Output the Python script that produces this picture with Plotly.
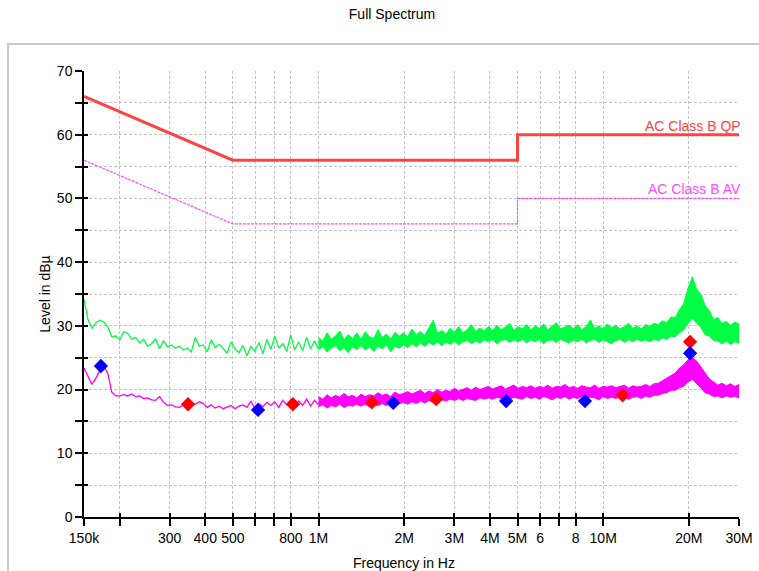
import numpy as np
import plotly.graph_objects as go

# ---------------- data ----------------
# limit lines (frequency in Hz, level in dBµV)
qp_freq = [150e3, 500e3, 5e6, 5e6, 30e6]
qp_level = [66, 56, 56, 60, 60]
av_freq = [150e3, 500e3, 5e6, 5e6, 30e6]
av_level = [56, 46, 46, 50, 50]

# sweep grid: sparse part (150 kHz - 1 MHz) and dense part (1 - 30 MHz)
freq_low = np.geomspace(150e3, 1e6, 60)
freq_high = np.geomspace(1e6, 30e6, 100)

peak_low = [34.2, 31.0, 29.6, 30.5, 30.9, 30.6, 29.8, 28.3, 28.4, 27.8,
            29.1, 28.8, 27.9, 28.2, 27.3, 27.9, 26.8, 27.2, 28.0, 26.4,
            27.7, 26.7, 27.0, 26.5, 26.8, 26.2, 26.5, 25.9, 28.2, 26.8,
            27.0, 25.9, 27.8, 26.6, 27.1, 26.5, 25.7, 27.5, 26.4, 25.8,
            26.9, 25.3, 26.8, 26.0, 27.4, 25.6, 27.9, 26.3, 28.4, 26.5,
            27.2, 26.0, 28.6, 26.2, 27.5, 26.1, 28.2, 26.4, 27.6, 26.3]
avg_low = [23.4, 22.0, 20.8, 21.8, 23.0, 23.7, 22.5, 19.6, 19.0, 19.0,
           19.2, 19.0, 19.3, 18.9, 19.0, 18.6, 18.7, 18.4, 18.3, 18.9,
           18.0, 17.5, 17.6, 17.3, 17.2, 17.6, 17.4, 17.9, 17.7, 18.1,
           17.8, 17.2, 17.6, 17.1, 17.4, 17.0, 17.3, 17.5, 17.0, 17.4,
           17.6, 17.2, 18.2, 17.0, 17.8, 17.3, 18.0, 17.5, 18.1, 17.2,
           18.3, 17.6, 18.4, 17.4, 18.2, 17.5, 18.5, 17.4, 18.3, 17.6]

# dense part: upper / lower envelope of the noisy sweep
peak_hi = [28.2, 27.6, 28.9, 27.9, 28.4, 29.2, 27.8, 28.6, 28.0, 28.9,
           27.9, 29.1, 28.3, 28.0, 29.4, 28.2, 28.7, 27.9, 29.0, 28.4,
           28.9, 28.3, 29.5, 28.6, 29.1, 28.5, 29.7, 30.9, 28.8, 29.3,
           28.7, 29.6, 29.0, 29.9, 28.9, 29.4, 30.2, 29.1, 29.7, 29.2,
           29.9, 29.3, 30.1, 29.4, 29.8, 30.4, 29.3, 29.9, 29.5, 30.2,
           29.4, 30.0, 29.6, 30.3, 29.4, 29.9, 30.5, 29.5, 29.8, 30.1,
           29.5, 30.2, 29.4, 29.9, 30.9, 29.6, 30.0, 29.5, 30.3, 29.7,
           30.1, 29.5, 29.9, 30.4, 29.6, 30.0, 29.5, 30.2, 29.9, 30.4,
           30.2, 30.8, 30.5, 31.4, 31.3, 32.6, 33.5, 35.9, 37.7, 35.8,
           35.0, 33.2, 32.4, 31.0, 31.3, 30.4, 30.7, 30.1, 30.6, 30.3]
peak_lo = [26.2, 26.8, 25.9, 26.5, 26.9, 26.1, 26.6, 25.8, 26.7, 26.3,
           26.9, 26.2, 26.7, 26.0, 26.8, 26.4, 27.0, 25.9, 26.8, 26.5,
           27.0, 26.6, 27.2, 26.7, 27.3, 26.8, 27.4, 27.0, 27.5, 26.9,
           27.4, 27.1, 27.6, 27.0, 27.5, 27.7, 27.2, 27.6, 27.3, 27.8,
           27.5, 27.8, 27.2, 27.7, 27.9, 27.4, 27.8, 27.5, 27.9, 27.3,
           27.8, 27.5, 27.9, 27.2, 27.7, 27.8, 27.4, 27.9, 27.6, 27.3,
           27.8, 27.5, 27.9, 27.3, 27.7, 27.9, 27.4, 27.8, 27.5, 27.2,
           27.7, 27.9, 27.4, 27.8, 27.5, 27.9, 27.6, 27.8, 27.5, 27.9,
           27.7, 28.1, 27.9, 28.4, 28.3, 28.9, 29.4, 30.4, 31.2, 30.4,
           29.8, 28.6, 28.4, 27.7, 27.6, 27.2, 27.6, 27.1, 27.5, 27.3]
avg_hi = [18.9, 18.5, 19.2, 18.7, 19.1, 18.8, 19.4, 18.9, 19.1, 18.7,
          19.3, 18.9, 19.2, 19.0, 19.5, 19.1, 19.3, 18.9, 19.6, 19.2,
          19.4, 19.7, 19.3, 19.6, 19.9, 19.4, 19.8, 19.5, 20.0, 19.6,
          19.9, 19.7, 20.2, 19.8, 20.0, 20.3, 19.9, 20.4, 20.0, 20.2,
          20.5, 20.1, 20.3, 20.6, 20.1, 20.4, 20.7, 20.2, 20.5, 20.3,
          20.6, 20.2, 20.5, 20.3, 20.7, 20.2, 20.5, 20.4, 20.8, 20.3,
          20.5, 20.2, 20.6, 20.4, 20.3, 20.7, 20.2, 20.5, 20.4, 20.6,
          20.3, 20.5, 20.7, 20.2, 20.6, 20.4, 20.5, 20.8, 20.5, 20.9,
          21.0, 21.4, 21.8, 22.3, 22.6, 23.4, 23.9, 24.7, 25.0, 24.5,
          23.5, 22.6, 21.7, 21.2, 20.7, 21.0, 20.6, 20.9, 20.5, 20.8]
avg_lo = [17.3, 17.6, 17.1, 17.5, 17.3, 17.7, 17.2, 17.5, 17.4, 17.7,
          17.4, 17.7, 17.3, 17.6, 17.5, 17.8, 17.5, 17.9, 17.6, 17.8,
          18.0, 17.7, 18.1, 17.8, 18.2, 17.9, 18.3, 18.0, 18.2, 18.4,
          18.2, 18.5, 18.3, 18.6, 18.3, 18.6, 18.5, 18.3, 18.7, 18.5,
          18.7, 18.5, 18.8, 18.6, 18.9, 18.5, 18.8, 18.7, 18.5, 18.9,
          18.6, 18.8, 18.5, 18.9, 18.7, 18.4, 18.8, 18.6, 18.9, 18.5,
          18.8, 18.6, 18.9, 18.5, 18.8, 18.7, 18.4, 18.9, 18.6, 18.8,
          18.6, 18.9, 18.7, 18.5, 18.8, 18.9, 18.6, 19.0, 18.8, 19.1,
          19.1, 19.4, 19.5, 19.9, 19.9, 20.3, 20.5, 21.2, 21.6, 20.9,
          20.3, 19.5, 19.3, 18.9, 19.0, 18.7, 19.0, 18.8, 18.9, 18.7]

# final measurement markers
qp_mark_freq = [172e3, 613e3, 1.83e6, 4.56e6, 8.63e6, 20.2e6]
qp_mark_level = [23.7, 16.8, 17.9, 18.2, 18.2, 25.7]
av_mark_freq = [348e3, 813e3, 1.54e6, 2.59e6, 11.7e6, 20.2e6]
av_mark_level = [17.7, 17.7, 18.0, 18.5, 19.1, 27.5]

x_tickvals = [150e3, 200e3, 300e3, 400e3, 500e3, 600e3, 700e3, 800e3, 1e6,
              2e6, 3e6, 4e6, 5e6, 6e6, 7e6, 8e6, 10e6, 20e6, 30e6]
x_ticktext = ["150k", "", "300", "400", "500", "", "", "800", "1M",
              "2M", "3M", "4M", "5M", "6", "", "8", "10M", "20M", "30M"]

# ---------------- figure ----------------
QP_COL = "#ff4343"
AV_COL = "#ff4dff"
GREEN = "#00ff44"
MAGENTA = "#ff00ff"
FONT = "Liberation Sans, Arial, sans-serif"

fig = go.Figure()


def add_band(freq, hi, lo, color):
    xs = list(freq) + list(freq[::-1])
    ys = list(hi) + list(lo[::-1])
    fig.add_trace(go.Scatter(x=xs, y=ys, mode="lines", fill="toself",
                             fillcolor=color, line=dict(color=color, width=1)))


fig.add_trace(go.Scatter(x=freq_low, y=peak_low, mode="lines",
                         line=dict(color=GREEN, width=1.3)))
add_band(freq_high, peak_hi, peak_lo, GREEN)
fig.add_trace(go.Scatter(x=freq_low, y=avg_low, mode="lines",
                         line=dict(color=MAGENTA, width=1.3)))
add_band(freq_high, avg_hi, avg_lo, MAGENTA)

fig.add_trace(go.Scatter(x=qp_freq, y=qp_level, mode="lines",
                         line=dict(color=QP_COL, width=3)))
fig.add_trace(go.Scatter(x=av_freq, y=av_level, mode="lines",
                         line=dict(color=AV_COL, width=1.2, dash="3px,1px")))
fig.add_trace(go.Scatter(x=av_mark_freq, y=av_mark_level, mode="markers",
                         marker=dict(symbol="diamond", size=11, color="#ff0000")))
fig.add_trace(go.Scatter(x=qp_mark_freq, y=qp_mark_level, mode="markers",
                         marker=dict(symbol="diamond", size=11, color="#0000ff")))

xr = [np.log10(150e3), np.log10(30e6)]
grid_col = "#c4c4c4"

fig.update_layout(
    width=759, height=571,
    margin=dict(l=84, r=20, t=71, b=54, autoexpand=False),
    paper_bgcolor="white", plot_bgcolor="white",
    showlegend=False,
    font=dict(family=FONT, size=14, color="black"),
    title=dict(text="Full Spectrum", x=392 / 759, xref="container", xanchor="center",
               y=1 - 14 / 571, yref="container", yanchor="middle",
               font=dict(size=14, family=FONT, color="black")),
    xaxis=dict(type="log", range=xr, tickvals=x_tickvals, ticktext=x_ticktext,
               automargin=False,
               ticks="outside", ticklen=7, tickwidth=1.5, tickcolor="black",
               showline=True, linecolor="black", linewidth=1.5,
               showgrid=True, gridcolor=grid_col, griddash="3px,2px", gridwidth=1,
               zeroline=False),
    yaxis=dict(range=[0, 70], dtick=10, tick0=0, automargin=False,
               ticks="outside", ticklen=7, tickwidth=1.5, tickcolor="black",
               showline=True, linecolor="black", linewidth=1.5,
               showgrid=True, gridcolor=grid_col, griddash="3px,2px", gridwidth=1,
               zeroline=False,
               minor=dict(dtick=5, tick0=0, ticks="outside", ticklen=7, tickwidth=1.5,
                          tickcolor="black", showgrid=True, gridcolor=grid_col,
                          griddash="3px,2px", gridwidth=1),
               title=dict(text="Level in dBµ", standoff=3, font=dict(size=14))),
    xaxis2=dict(type="log", range=xr, overlaying="x", anchor="y", side="bottom",
                automargin=False,
                tickvals=x_tickvals, showticklabels=False, ticks="inside", ticklen=4,
                tickwidth=1.5, tickcolor="black", showgrid=False, showline=False,
                zeroline=False),
    yaxis2=dict(range=[0, 70], overlaying="y", anchor="x", side="left",
                automargin=False,
                tickvals=list(range(0, 75, 5)), showticklabels=False, ticks="inside",
                ticklen=4, tickwidth=1.5, tickcolor="black", showgrid=False,
                showline=False, zeroline=False),
    shapes=[dict(type="rect", xref="paper", yref="paper",
                 x0=(8 - 84) / 655, x1=1.1, y0=-0.2, y1=1 + 27 / 446,
                 line=dict(color="#c8c8c8", width=2), fillcolor="rgba(0,0,0,0)",
                 layer="below")],
    annotations=[
        dict(x=np.log10(30e6), y=60, xref="x", yref="y", text="AC Class B QP",
             showarrow=False, xanchor="right", yanchor="bottom", yshift=-1, xshift=4,
             font=dict(color=QP_COL, size=14, family=FONT)),
        dict(x=np.log10(30e6), y=50, xref="x", yref="y", text="AC Class B AV",
             showarrow=False, xanchor="right", yanchor="bottom", yshift=-1, xshift=4,
             font=dict(color=AV_COL, size=14, family=FONT)),
        dict(x=(404 - 84) / 655, y=(517 - 563) / 446, xref="paper", yref="paper",
             text="Frequency in Hz", showarrow=False, xanchor="center",
             yanchor="middle", font=dict(size=14, family=FONT, color="black")),
    ],
)
# invisible trace so the overlay axes (crossing tick marks) are drawn
fig.add_trace(go.Scatter(x=[150e3], y=[0], xaxis="x2", yaxis="y2", mode="markers",
                         marker=dict(opacity=0), hoverinfo="skip"))

fig.write_html("out.html")
